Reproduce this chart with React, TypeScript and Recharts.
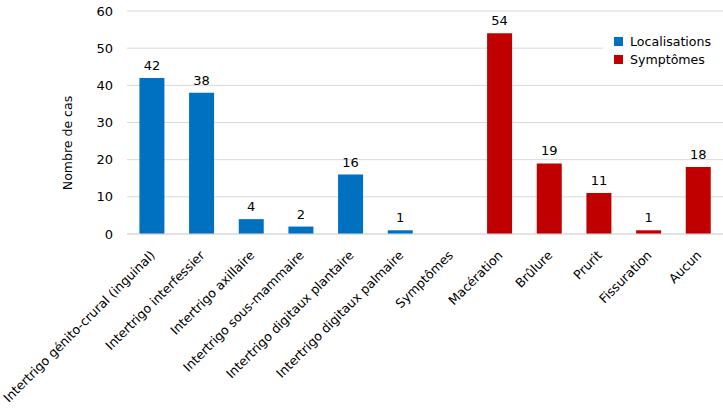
import { BarChart, Bar, XAxis, YAxis, CartesianGrid, LabelList } from "recharts";

const categories = [
  "Intertrigo génito-crural (inguinal)",
  "Intertrigo interfessier",
  "Intertrigo axillaire",
  "Intertrigo sous-mammaire",
  "Intertrigo digitaux plantaire",
  "Intertrigo digitaux palmaire",
  "Symptômes",
  "Macération",
  "Brûlure",
  "Prurit",
  "Fissuration",
  "Aucun",
];
const localisations = [42, 38, 4, 2, 16, 1, null, null, null, null, null, null];
const symptomes = [null, null, null, null, null, null, null, 54, 19, 11, 1, 18];
const yTicks = [0, 10, 20, 30, 40, 50, 60];

const BLUE = "#0070C0";
const RED = "#C00000";
const FONT = "DejaVu Sans, Verdana, sans-serif";

const data = categories.map((c, i) => ({
  cat: c,
  loc: localisations[i],
  sym: symptomes[i],
}));

const legendItems = [
  { name: "Localisations", color: BLUE },
  { name: "Symptômes", color: RED },
];

function XTick({ x, y, payload }: any) {
  return (
    <g transform={`translate(${x + 4},${y + 14})`}>
      <text x={0} y={0} textAnchor="end" transform="rotate(-45)" fontSize={12.6} fill="#000" fontFamily={FONT}>
        {payload.value}
      </text>
    </g>
  );
}

function ValueLabel({ x, y, width, value }: any) {
  if (value === null || value === undefined) return null;
  return (
    <text x={x + width / 2} y={y - 8} textAnchor="middle" fontSize={13} fill="#000" fontFamily={FONT}>
      {value}
    </text>
  );
}

export default function App() {
  return (
    <div style={{ position: "absolute", left: 0, top: 0, width: 723, height: 408, background: "#fff" }}>
      <BarChart width={723} height={408} data={data} margin={{ top: 11, right: 0, bottom: 0, left: 0 }} barCategoryGap="25%">
        <CartesianGrid stroke="#d9d9d9" vertical={false} />
        <XAxis
          dataKey="cat"
          interval={0}
          height={174}
          tick={<XTick />}
          tickLine={false}
          axisLine={{ stroke: "#d9d9d9" }}
        />
        <YAxis
          width={127}
          domain={[0, 60]}
          ticks={yTicks}
          tickLine={false}
          axisLine={false}
          tickMargin={8}
          tick={{ fontSize: 13, fill: "#000", fontFamily: FONT }}
          label={({ viewBox }: any) => (
            <text
              x={viewBox.x + 72}
              y={143}
              textAnchor="middle"
              transform={`rotate(-90, ${viewBox.x + 72}, 143)`}
              fontSize={12.5}
              fontFamily={FONT}
              fill="#000"
            >
              Nombre de cas
            </text>
          )}
        />
        <Bar dataKey="loc" name="Localisations" stackId="a" fill={BLUE} isAnimationActive={false}>
          <LabelList dataKey="loc" content={<ValueLabel />} />
        </Bar>
        <Bar dataKey="sym" name="Symptômes" stackId="a" fill={RED} isAnimationActive={false}>
          <LabelList dataKey="sym" content={<ValueLabel />} />
        </Bar>
      </BarChart>
      <div
        style={{
          position: "absolute",
          left: 603,
          top: 26,
          width: 120,
          height: 46,
          background: "#fff",
          fontFamily: FONT,
          fontSize: 12.6,
          paddingTop: 6,
          boxSizing: "border-box",
        }}
      >
        {legendItems.map(it => (
          <div key={it.name} style={{ display: "flex", alignItems: "center", height: 18, paddingLeft: 11 }}>
            <span style={{ width: 9, height: 9, background: it.color, display: "inline-block", marginRight: 7 }} />
            <span>{it.name}</span>
          </div>
        ))}
      </div>
    </div>
  );
}
